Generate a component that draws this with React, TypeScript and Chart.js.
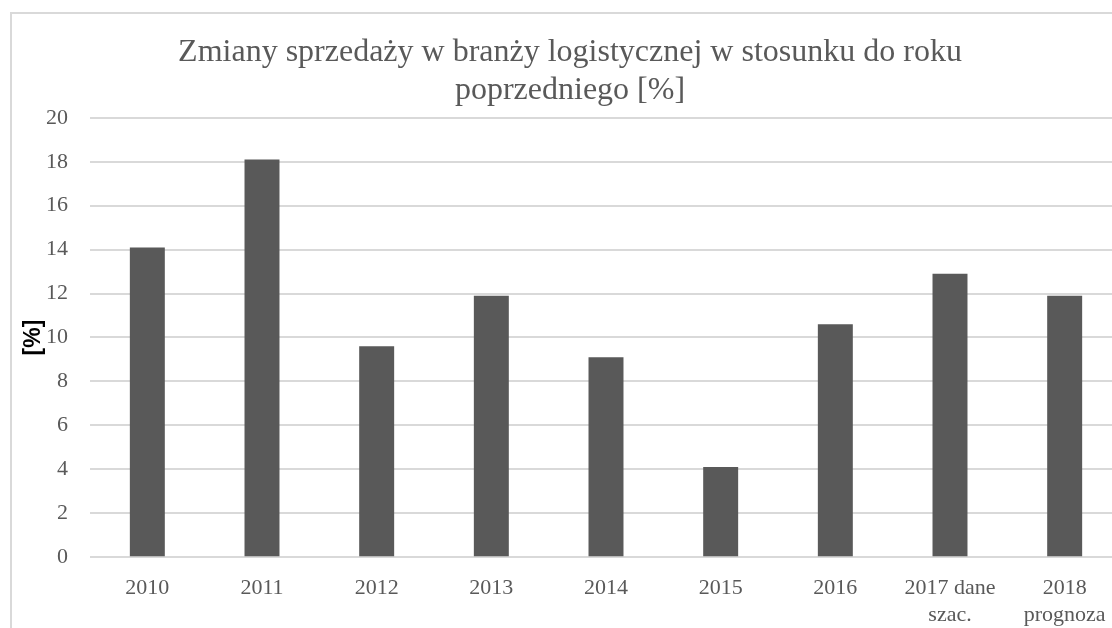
import React, { useEffect, useRef } from "react";
import { Chart, registerables } from "chart.js";

Chart.register(...registerables);

const categories: (string | string[])[] = [
  "2010",
  "2011",
  "2012",
  "2013",
  "2014",
  "2015",
  "2016",
  ["2017 dane", "szac."],
  ["2018", "prognoza"],
];
const values: number[] = [14.1, 18.1, 9.6, 11.9, 9.1, 4.1, 10.6, 12.9, 11.9];
const titleLines: string[] = [
  "Zmiany sprzedaży w branży logistycznej w stosunku do roku",
  "poprzedniego [%]",
];
const yAxisTitle = "[%]";
const yMin = 0;
const yMax = 20;
const yStep = 2;

const SERIF = "'Liberation Serif', 'Times New Roman', serif";
const SANS = "'Liberation Sans', Arial, sans-serif";

export default function App() {
  const canvasRef = useRef<HTMLCanvasElement | null>(null);

  useEffect(() => {
    if (!canvasRef.current) return;
    const chart = new Chart(canvasRef.current, {
      type: "bar",
      data: {
        labels: categories,
        datasets: [
          {
            data: values,
            backgroundColor: "#595959",
            borderWidth: 0,
            categoryPercentage: 1,
            barPercentage: 0.305,
          },
        ],
      },
      options: {
        animation: false,
        responsive: false,
        maintainAspectRatio: false,
        devicePixelRatio: 1,
        layout: { padding: { left: 6, right: 6, top: 0, bottom: 2 } },
        plugins: {
          legend: { display: false },
          tooltip: { enabled: false },
          title: {
            display: true,
            text: titleLines,
            color: "#595959",
            font: { family: SERIF, size: 32, weight: "normal", lineHeight: 1.2 },
            padding: { top: 19, bottom: 8 },
          },
        },
        scales: {
          x: {
            grid: { display: false, drawTicks: false },
            border: { display: false },
            ticks: {
              color: "#595959",
              font: { family: SERIF, size: 22, lineHeight: 1.2 },
              padding: 18,
              maxRotation: 0,
              autoSkip: false,
            },
          },
          y: {
            min: yMin,
            max: yMax,
            afterFit: (scale: any) => {
              scale.width = 72;
            },
            grid: { color: "#d9d9d9", lineWidth: 2, drawTicks: false },
            border: { display: false },
            ticks: {
              stepSize: yStep,
              color: "#595959",
              font: { family: SERIF, size: 22 },
              padding: 22,
            },
            title: {
              display: true,
              text: yAxisTitle,
              color: "#000000",
              font: { family: SANS, size: 23, weight: "bold" },
              padding: { top: 2, bottom: 0 },
            },
          },
        },
      },
    });
    return () => chart.destroy();
  }, []);

  return (
    <div
      style={{
        position: "fixed",
        left: 0,
        top: 0,
        width: 1112,
        height: 628,
        overflow: "hidden",
        background: "#ffffff",
      }}
    >
      <div
        style={{
          position: "absolute",
          left: 10,
          top: 12,
          width: 1140,
          height: 650,
          border: "2px solid #d9d9d9",
          background: "#ffffff",
        }}
      >
        <canvas
          ref={canvasRef}
          width={1116}
          height={634}
          style={{ position: "absolute", left: 0, top: 0 }}
        />
      </div>
    </div>
  );
}
